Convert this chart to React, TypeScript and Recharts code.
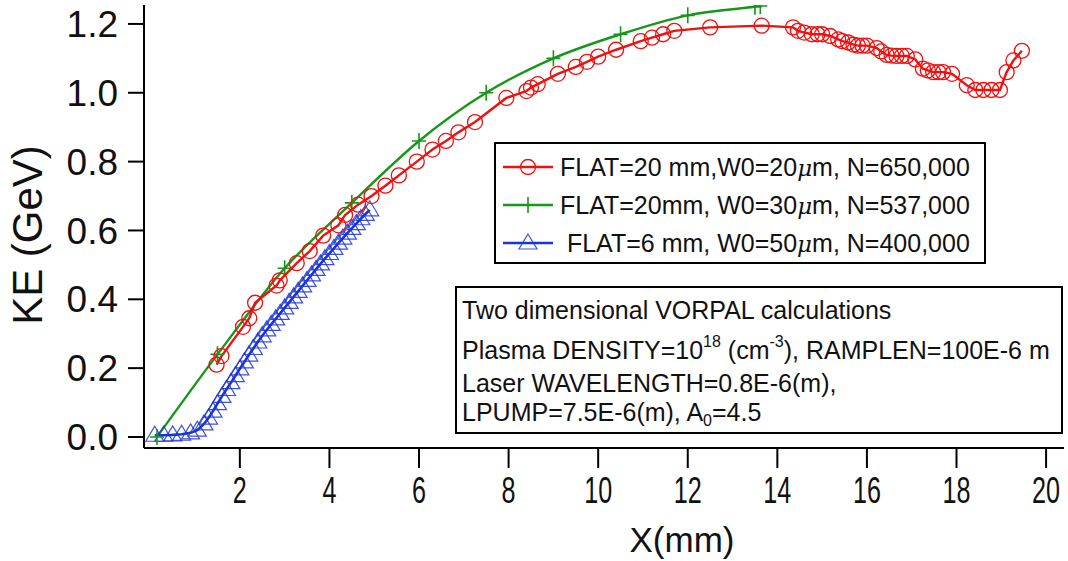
import React from "react";
import { LineChart, Line, XAxis, YAxis } from "recharts";

// FLAT=20 mm, W0=20um (red circles)
const redX = [1.48, 1.59, 2.07, 2.21, 2.34, 2.82, 2.89, 3.27, 3.56, 3.86, 4.2, 4.35, 4.64, 4.94, 5.25, 5.55, 5.95, 6.3, 6.6, 6.88, 7.25, 7.95, 8.4, 8.5, 8.65, 9.1, 9.5, 9.75, 10.0, 10.4, 10.95, 11.2, 11.45, 11.7, 12.5, 13.65, 14.35, 14.46, 14.6, 14.77, 14.9, 15.0, 15.18, 15.36, 15.45, 15.58, 15.7, 15.8, 15.9, 16.0, 16.22, 16.32, 16.44, 16.55, 16.66, 16.78, 16.89, 17.08, 17.25, 17.36, 17.48, 17.6, 17.7, 17.9, 18.23, 18.42, 18.6, 18.78, 18.97, 19.12, 19.27, 19.46];
const redY = [0.21, 0.235, 0.32, 0.345, 0.39, 0.44, 0.455, 0.505, 0.54, 0.585, 0.615, 0.645, 0.675, 0.70, 0.73, 0.76, 0.80, 0.835, 0.86, 0.885, 0.915, 0.985, 1.005, 1.015, 1.025, 1.055, 1.075, 1.09, 1.105, 1.125, 1.15, 1.16, 1.17, 1.18, 1.19, 1.195, 1.19, 1.18, 1.175, 1.17, 1.17, 1.17, 1.165, 1.155, 1.15, 1.146, 1.14, 1.137, 1.137, 1.137, 1.13, 1.12, 1.11, 1.108, 1.107, 1.107, 1.107, 1.097, 1.07, 1.065, 1.06, 1.06, 1.06, 1.055, 1.022, 1.008, 1.008, 1.008, 1.008, 1.06, 1.094, 1.122];

// FLAT=20mm, W0=30um (green pluses)
const greenX = [0.15, 1.5, 3.0, 4.5, 6.0, 7.5, 9.0, 10.5, 12.0, 13.5, 13.62];
const greenY = [0.0, 0.24, 0.49, 0.68, 0.86, 1.0, 1.1, 1.17, 1.225, 1.25, 1.252];

// FLAT=6 mm, W0=50um (blue triangles)
const blueX = [0.1, 0.3, 0.5, 0.7, 0.9, 1.05, 1.2, 1.3, 1.4, 1.5, 1.6, 1.7, 1.8, 1.9, 2.0, 2.1, 2.2, 2.3, 2.4, 2.5, 2.6, 2.7, 2.8, 2.9, 3.0, 3.1, 3.2, 3.3, 3.4, 3.5, 3.6, 3.7, 3.8, 3.9, 4.0, 4.1, 4.2, 4.3, 4.4, 4.5, 4.6, 4.7, 4.8, 4.9];
const blueY = [0.005, 0.005, 0.006, 0.008, 0.012, 0.02, 0.038, 0.055, 0.075, 0.097, 0.118, 0.138, 0.158, 0.178, 0.198, 0.218, 0.238, 0.257, 0.276, 0.294, 0.311, 0.327, 0.343, 0.359, 0.375, 0.391, 0.407, 0.423, 0.439, 0.455, 0.471, 0.487, 0.503, 0.518, 0.533, 0.548, 0.563, 0.578, 0.592, 0.606, 0.62, 0.634, 0.647, 0.66];

const xTicks = [2, 4, 6, 8, 10, 12, 14, 16, 18, 20];
const yTicks = [0, 0.2, 0.4, 0.6, 0.8, 1.0, 1.2];

const RED = "#f01010";
const GREEN = "#16961a";
const BLUE = "#1b34d6";
const FONT = "'Liberation Sans', Arial, sans-serif";

const toRows = (xs: number[], ys: number[]) => xs.map((x, i) => ({ x, y: ys[i] }));
const redData = toRows(redX, redY);
const greenData = toRows(greenX, greenY);
const blueData = toRows(blueX, blueY);

function Circ({ cx, cy }: any) {
  return <circle cx={cx} cy={cy} r={7.5} fill="none" stroke={RED} strokeWidth={1.3} />;
}
function Plus({ cx, cy }: any) {
  return (
    <path d={`M${cx - 7},${cy}H${cx + 7}M${cx},${cy - 8}V${cy + 8}`} stroke={GREEN} strokeWidth={1.6} fill="none" />
  );
}
function Tri({ cx, cy }: any) {
  return (
    <path d={`M${cx},${cy - 9}L${cx + 9},${cy + 6}L${cx - 9},${cy + 6}Z`} fill="none" stroke={BLUE} strokeWidth={1.2} strokeOpacity={0.85} />
  );
}

function XTick({ x, y, payload }: any) {
  return (
    <g transform={`translate(${x},${y + 33}) scale(0.68,1)`}>
      <text textAnchor="middle" fontSize={37} fontFamily={FONT} fill="#111">
        {payload.value}
      </text>
    </g>
  );
}

const Mu = () => (
  <tspan fontStyle="italic" fontFamily="'DejaVu Serif', serif" fontSize={23}>μ</tspan>
);

export default function App() {
  const legend = [
    { label: ["FLAT=20 mm,W0=20", "m, N=650,000"], color: RED, M: Circ },
    { label: ["FLAT=20mm, W0=30", "m, N=537,000"], color: GREEN, M: Plus },
    { label: [" FLAT=6 mm, W0=50", "m, N=400,000"], color: BLUE, M: Tri },
  ];
  const rowY = [167, 205, 243];
  return (
    <div style={{ position: "absolute", left: 0, top: 0, width: 1068, height: 561, background: "#fff" }}>
      <LineChart width={1068} height={561} margin={{ top: 5, right: 4, bottom: 0, left: 0 }}>
        <XAxis
          dataKey="x"
          type="number"
          domain={[-0.14, 20.4]}
          allowDataOverflow
          ticks={xTicks}
          tickSize={20}
          stroke="#000"
          strokeWidth={2}
          height={113}
          tick={<XTick />}
        />
        <YAxis
          dataKey="y"
          type="number"
          domain={[-0.032, 1.255]}
          allowDataOverflow
          ticks={yTicks}
          tickFormatter={(v: number) => v.toFixed(1)}
          tickSize={16}
          tickMargin={10}
          width={144}
          stroke="#000"
          strokeWidth={2}
          tick={{ fontSize: 37, fontFamily: FONT, fill: "#111" }}
        />
        <Line data={blueData} dataKey="y" type="linear" stroke={BLUE} strokeWidth={2.6} dot={(p: any) => <Tri key={p.index} {...p} />} isAnimationActive={false} />
        <Line data={greenData} dataKey="y" type="monotone" stroke={GREEN} strokeWidth={2.4} dot={(p: any) => <Plus key={p.index} {...p} />} isAnimationActive={false} />
        <Line data={redData} dataKey="y" type="linear" stroke={RED} strokeWidth={2.4} dot={(p: any) => <Circ key={p.index} {...p} />} isAnimationActive={false} />
      </LineChart>
      <svg width={1068} height={561} style={{ position: "absolute", left: 0, top: 0, pointerEvents: "none" }}>
        <text transform="translate(42,235) rotate(-90)" textAnchor="middle" fontSize={42} fontFamily={FONT} fill="#111">
          KE (GeV)
        </text>
        <text x={682} y={552} textAnchor="middle" fontSize={35} fontFamily={FONT} fill="#111">
          X(mm)
        </text>

        <rect x={495} y={143} width={490} height={120} fill="#fff" stroke="#000" strokeWidth={2} />
        {legend.map((r, i) => (
          <g key={i}>
            <line x1={503} x2={553} y1={rowY[i]} y2={rowY[i]} stroke={r.color} strokeWidth={2.4} />
            <r.M cx={528} cy={rowY[i]} />
            <text x={560} y={rowY[i] + 9} fontSize={25} fontFamily={FONT} fill="#111" style={{ whiteSpace: "pre" }}>
              {r.label[0]}
              <Mu />
              {r.label[1]}
            </text>
          </g>
        ))}

        <rect x={456} y={287} width={606} height={146} fill="#fff" stroke="#000" strokeWidth={2} />
        <g fontSize={25} fontFamily={FONT} fill="#111">
          <text x={462} y={319}>Two dimensional VORPAL calculations</text>
          <text x={462} y={359}>
            Plasma DENSITY=10
            <tspan fontSize={16} dy={-12}>18</tspan>
            <tspan dy={12}> (cm</tspan>
            <tspan fontSize={16} dy={-12}>-3</tspan>
            <tspan dy={12}>), RAMPLEN=100E-6 m</tspan>
          </text>
          <text x={462} y={392}>Laser WAVELENGTH=0.8E-6(m),</text>
          <text x={462} y={421}>
            LPUMP=7.5E-6(m), A
            <tspan fontSize={16} dy={5}>0</tspan>
            <tspan dy={-5}>=4.5</tspan>
          </text>
        </g>
      </svg>
    </div>
  );
}
